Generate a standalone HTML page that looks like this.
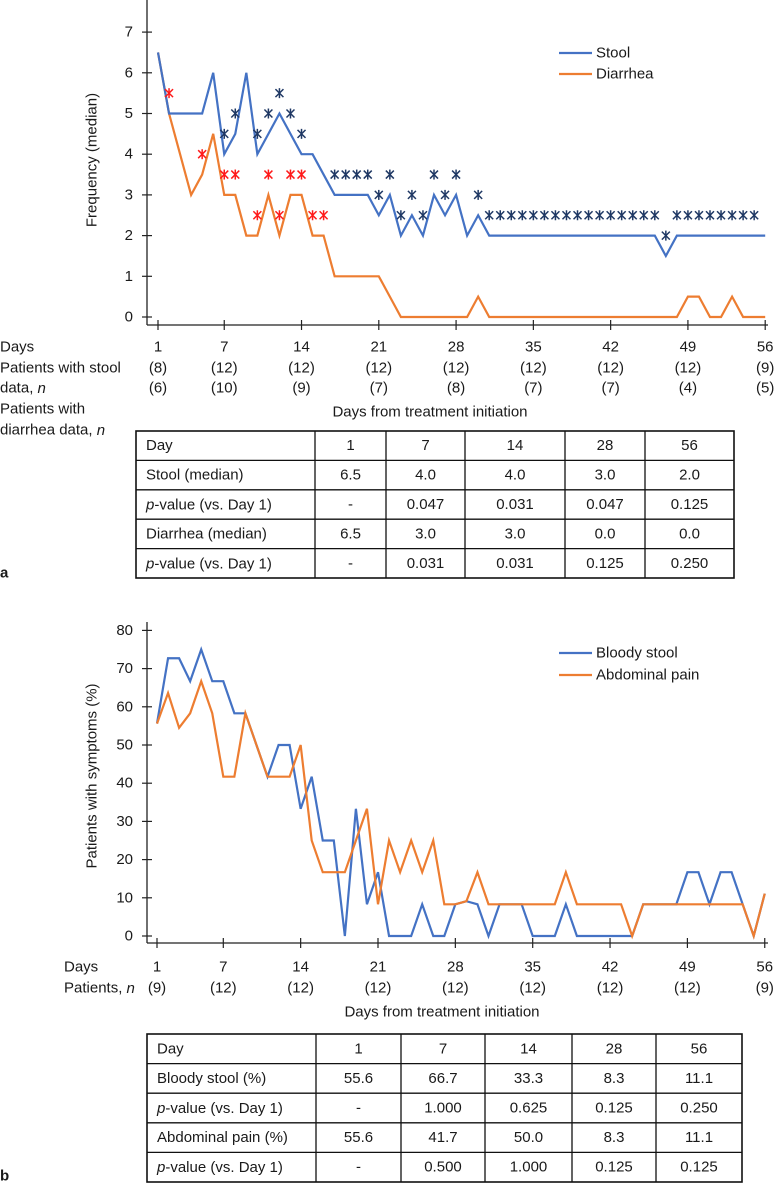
<!DOCTYPE html>
<html><head><meta charset="utf-8">
<style>
html,body{margin:0;padding:0;background:#fff;}
svg{display:block;font-family:"Liberation Sans",Arial,sans-serif;}
text{font-size:15px;fill:#1a1a1a;}
</style></head>
<body>
<svg id="fig" width="781" height="1189" viewBox="0 0 781 1189"></svg>
<script>
// ---- Chart a data ----
const stoolDays = [1,2,3,4,5,6,7,8,9,10,11,12,13,14,15,16,17,18,19,20,21,22,23,24,25,26,27,28,29,30,31,32,33,34,35,36,37,38,39,40,41,42,43,44,45,46,47,48,49,50,51,52,53,54,55,56];
const stoolValues = [6.5,5,5,5,5,6,4,4.5,6,4,4.5,5,4.5,4,4,3.5,3,3,3,3,2.5,3,2,2.5,2,3,2.5,3,2,2.5,2,2,2,2,2,2,2,2,2,2,2,2,2,2,2,2,1.5,2,2,2,2,2,2,2,2,2];
const diarrheaValues = [6.5,5,4,3,3.5,4.5,3,3,2,2,3,2,3,3,2,2,1,1,1,1,1,0.5,0,0,0,0,0,0,0,0.5,0,0,0,0,0,0,0,0,0,0,0,0,0,0,0,0,0,0,0.5,0.5,0,0,0.5,0,0,0];
const stoolStarDays = [7,8,10,11,12,13,14,17,18,19,20,21,22,23,24,25,26,27,28,30,31,32,33,34,35,36,37,38,39,40,41,42,43,44,45,46,47,48,49,50,51,52,53,54,55];
const stoolStarValues = [4.5,5,4.5,5,5.5,5,4.5,3.5,3.5,3.5,3.5,3,3.5,2.5,3,2.5,3.5,3,3.5,3,2.5,2.5,2.5,2.5,2.5,2.5,2.5,2.5,2.5,2.5,2.5,2.5,2.5,2.5,2.5,2.5,2,2.5,2.5,2.5,2.5,2.5,2.5,2.5,2.5];
const diarStarDays = [2,5,7,8,10,11,12,13,14,15,16];
const diarStarValues = [5.5,4,3.5,3.5,2.5,3.5,2.5,3.5,3.5,2.5,2.5];
const aYTicks = [0,1,2,3,4,5,6,7];
const aXTickDays = [1,7,14,21,28,35,42,49,56];
const aStoolN = ["(8)","(12)","(12)","(12)","(12)","(12)","(12)","(12)","(9)"];
const aDiarN = ["(6)","(10)","(9)","(7)","(8)","(7)","(7)","(4)","(5)"];
// ---- Chart b data ----
const bloodyValues = [55.6,72.7,72.7,66.7,75,66.7,66.7,58.3,58.3,50,41.7,50,50,33.3,41.7,25,25,0,33.3,8.3,16.7,0,0,0,8.3,0,0,8.3,9.1,8.3,0,8.3,8.3,8.3,0,0,0,8.3,0,0,0,0,0,0,8.3,8.3,8.3,8.3,16.7,16.7,8.3,16.7,16.7,8.3,0,11.1];
const painValues = [55.6,63.6,54.5,58.3,66.7,58.3,41.7,41.7,58.3,50,41.7,41.7,41.7,50,25,16.7,16.7,16.7,25,33.3,8.3,25,16.7,25,16.7,25,8.3,8.3,9.1,16.7,8.3,8.3,8.3,8.3,8.3,8.3,8.3,16.7,8.3,8.3,8.3,8.3,8.3,0,8.3,8.3,8.3,8.3,8.3,8.3,8.3,8.3,8.3,8.3,0,11.1];
const bYTicks = [0,10,20,30,40,50,60,70,80];
const bN = ["(9)","(12)","(12)","(12)","(12)","(12)","(12)","(12)","(9)"];

const NS="http://www.w3.org/2000/svg";
const svg=document.getElementById('fig');
function mk(tag,attrs,parent){const e=document.createElementNS(NS,tag);for(const k in attrs)e.setAttribute(k,attrs[k]);(parent||svg).appendChild(e);return e;}
function txt(s,x,y,anchor,parent,extra){const t=mk('text',Object.assign({x:x,y:y,'text-anchor':anchor||'start','dominant-baseline':'central'},extra||{}),parent);t.textContent=s;return t;}

const ax=d=>158+(d-1)*11.04, ay=v=>317-v*40.7;
const bx=d=>157+(d-1)*11.05, by=v=>936-v*3.82;
const BLUE="#4472c4", ORANGE="#ed7d31";

// ===== Chart a =====
const ga=mk('g',{});


mk('line',{x1:147,y1:0,x2:147,y2:325,stroke:'#222','stroke-width':1.3},ga);
mk('line',{x1:147,y1:325,x2:768,y2:325,stroke:'#222','stroke-width':1.3},ga);
aYTicks.forEach(v=>{
  mk('line',{x1:142,y1:ay(v),x2:152,y2:ay(v),stroke:'#222','stroke-width':1.2},ga);
  const t=txt(String(v),133,ay(v),'end',ga);
  
  
});
aXTickDays.forEach((d,i)=>{
  mk('line',{x1:ax(d),y1:320,x2:ax(d),y2:330,stroke:'#222','stroke-width':1.2},ga);
  const t=txt(String(d),ax(d),347,'middle',ga);
  
  
  txt(aStoolN[i],ax(d),368,'middle',ga);
  txt(aDiarN[i],ax(d),388,'middle',ga);
});
const yta=txt('Frequency (median)',0,0,'middle',ga,{transform:'translate(92,160) rotate(-90)'});


txt('Days',0,347,'start',ga);
txt('Patients with stool',0,368,'start',ga);
const l1=txt('data, ',0,388,'start',ga);const it1=mk('tspan',{'font-style':'italic'},l1);it1.textContent='n';
txt('Patients with',0,409,'start',ga);
const l2=txt('diarrhea data, ',0,430,'start',ga);const it2=mk('tspan',{'font-style':'italic'},l2);it2.textContent='n';
const xta=txt('Days from treatment initiation',430,412,'middle',ga);



function poly(xs,ys,xf,yf,color,parent,name){
  const p=mk('polyline',{points:xs.map((d,i)=>xf(d)+','+yf(ys[i])).join(' '),fill:'none',stroke:color,'stroke-width':2.2,'stroke-linejoin':'miter'},parent);
  
  
}
poly(stoolDays,diarrheaValues,ax,ay,ORANGE,ga,'diarrhea-line');
poly(stoolDays,stoolValues,ax,ay,BLUE,ga,'stool-line');
function star(x,y,color,parent){
  const g=mk('g',{stroke:color,'stroke-width':1.5},parent);
  
  
  mk('line',{x1:x,y1:y-5,x2:x,y2:y+5},g);
  mk('line',{x1:x-4,y1:y-4,x2:x+4,y2:y+4},g);
  mk('line',{x1:x-4,y1:y+4,x2:x+4,y2:y-4},g);
}
stoolStarDays.forEach((d,i)=>star(ax(d),ay(stoolStarValues[i]),'#1f3864',ga));
diarStarDays.forEach((d,i)=>star(ax(d),ay(diarStarValues[i]),'#ff1a1a',ga));
const lga=mk('g',{},ga);


mk('line',{x1:559,y1:53,x2:592,y2:53,stroke:BLUE,'stroke-width':2.2},lga);
txt('Stool',596,53,'start',lga);
mk('line',{x1:559,y1:74,x2:592,y2:74,stroke:ORANGE,'stroke-width':2.2},lga);
txt('Diarrhea',596,74,'start',lga);

// ===== Chart b =====
const gb=mk('g',{});


mk('line',{x1:147,y1:622,x2:147,y2:943,stroke:'#222','stroke-width':1.3},gb);
mk('line',{x1:147,y1:943,x2:768,y2:943,stroke:'#222','stroke-width':1.3},gb);
bYTicks.forEach(v=>{
  mk('line',{x1:142,y1:by(v),x2:152,y2:by(v),stroke:'#222','stroke-width':1.2},gb);
  const t=txt(String(v),133,by(v),'end',gb);
  
  
});
aXTickDays.forEach((d,i)=>{
  mk('line',{x1:bx(d),y1:938,x2:bx(d),y2:948,stroke:'#222','stroke-width':1.2},gb);
  const t=txt(String(d),bx(d),967,'middle',gb);
  
  
  txt(bN[i],bx(d),988,'middle',gb);
});
txt('Days',64,967,'start',gb);
const l3=txt('Patients, ',64,988,'start',gb);const it3=mk('tspan',{'font-style':'italic'},l3);it3.textContent='n';
const ytb=txt('Patients with symptoms (%)',0,0,'middle',gb,{transform:'translate(92,776) rotate(-90)'});


const xtb=txt('Days from treatment initiation',442,1012,'middle',gb);


poly(stoolDays,bloodyValues,bx,by,BLUE,gb,'bloody-stool-line');
poly(stoolDays,painValues,bx,by,ORANGE,gb,'abdominal-pain-line');
const lgb=mk('g',{},gb);


mk('line',{x1:559,y1:653,x2:592,y2:653,stroke:BLUE,'stroke-width':2.2},lgb);
txt('Bloody stool',596,653,'start',lgb);
mk('line',{x1:559,y1:675,x2:592,y2:675,stroke:ORANGE,'stroke-width':2.2},lgb);
txt('Abdominal pain',596,675,'start',lgb);

// ===== Tables =====
function table(cols,top,rowH,rows,name){
  const g=mk('g',{});
  
  
  const L=cols[0],R=cols[cols.length-1],B=top+rowH*rows.length;
  mk('rect',{x:L,y:top,width:R-L,height:B-top,fill:'none',stroke:'#111','stroke-width':1.6},g);
  for(let i=1;i<rows.length;i++)mk('line',{x1:L,y1:top+rowH*i,x2:R,y2:top+rowH*i,stroke:'#111','stroke-width':1.3},g);
  for(let j=1;j<cols.length-1;j++)mk('line',{x1:cols[j],y1:top,x2:cols[j],y2:B,stroke:'#111','stroke-width':1.3},g);
  rows.forEach((r,i)=>{
    const cy=top+rowH*i+rowH/2;
    r.forEach((c,j)=>{
      if(j===0){
        const t=txt('',L+10,cy,'start',g);
        if(c.startsWith('p-')){const s=mk('tspan',{'font-style':'italic'},t);s.textContent='p';const s2=mk('tspan',{},t);s2.textContent=c.slice(1);}
        else t.textContent=c;
      } else txt(c,(cols[j]+cols[j+1])/2,cy,'middle',g);
    });
  });
}
table([136,315,386,465,565,645,734],431,29.4,[
 ['Day','1','7','14','28','56'],
 ['Stool (median)','6.5','4.0','4.0','3.0','2.0'],
 ['p-value (vs. Day 1)','-','0.047','0.031','0.047','0.125'],
 ['Diarrhea (median)','6.5','3.0','3.0','0.0','0.0'],
 ['p-value (vs. Day 1)','-','0.031','0.031','0.125','0.250']],'table-a');
table([147,316,401,485,572,656,742],1034,29.6,[
 ['Day','1','7','14','28','56'],
 ['Bloody stool (%)','55.6','66.7','33.3','8.3','11.1'],
 ['p-value (vs. Day 1)','-','1.000','0.625','0.125','0.250'],
 ['Abdominal pain (%)','55.6','41.7','50.0','8.3','11.1'],
 ['p-value (vs. Day 1)','-','0.500','1.000','0.125','0.125']],'table-b');

const pa=txt('a',0,573,'start',null,{'font-weight':'bold'});


const pb=txt('b',0,1176,'start',null,{'font-weight':'bold'});


</script>
</body></html>
